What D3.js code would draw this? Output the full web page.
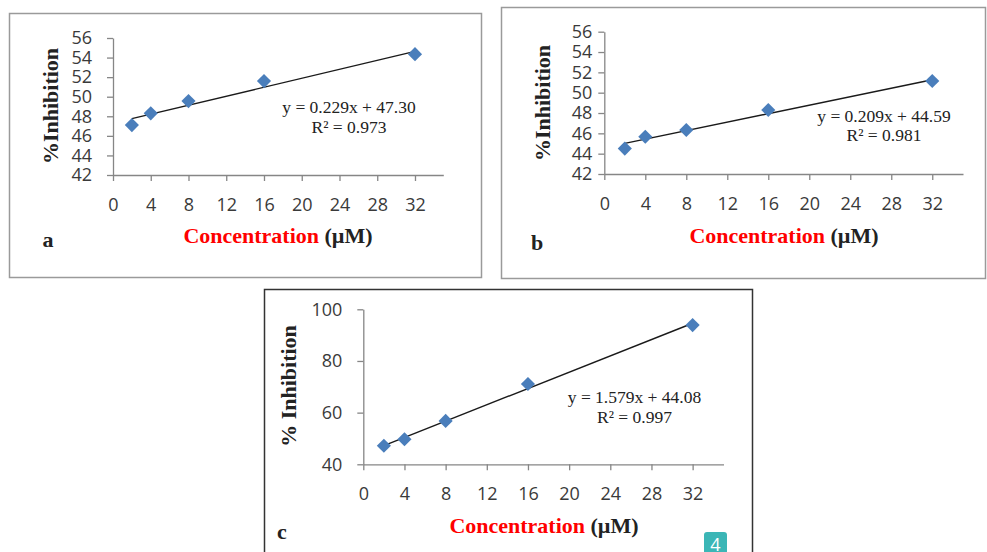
<!DOCTYPE html>
<html>
<head>
<meta charset="utf-8">
<script src="https://cdn.jsdelivr.net/npm/d3@7"></script>
<style>
  html, body { margin: 0; padding: 0; background: #fff; }
  svg { display: block; }
</style>
</head>
<body>
<svg id="chart" width="987" height="552"></svg>
<script>
// ---------- data ----------
const concentrations = [2, 4, 8, 16, 32];
const inhibitionA = [47.1, 48.3, 49.55, 51.6, 54.35];
const inhibitionB = [44.5, 45.67, 46.33, 48.3, 51.15];
const inhibitionC = [47.2, 49.7, 56.8, 71.1, 93.9];

const xTicks = [0, 4, 8, 12, 16, 20, 24, 28, 32];
const yTicksAB = [42, 44, 46, 48, 50, 52, 54, 56];
const yTicksC = [40, 60, 80, 100];

const panelLetters = ["a", "b", "c"];
const yTitles = ["%Inhibition", "%Inhibition", "% Inhibition"];
const slopes = [0.229, 0.209, 1.579];
const intercepts = ["47.30", "44.59", "44.08"];
const rSquared = ["0.973", "0.981", "0.997"];
const badgeLabel = "4";

// ---------- layout ----------
const layouts = [
  { box: [9, 13, 481, 277], border: "#9a9a9a", xr: [113, 443.3], yr: [175, 38], ydom: [42, 56],
    yPad: 15, eq: [349, 113, 133], yTitle: [50, 106], xTitle: [278, 243], letter: [48, 247] },
  { box: [501, 7, 985, 278], border: "#9a9a9a", xr: [604.3, 963], yr: [174, 31.7], ydom: [42, 56],
    yPad: 6, eq: [884, 122, 141], yTitle: [542, 103], xTitle: [784, 243], letter: [537, 250] },
  { box: [264, 289, 752, 580], border: "#333", xr: [363.3, 723.5], yr: [464.3, 309.3], ydom: [40, 100],
    yPad: 15, eq: [634.5, 403, 423], yTitle: [288, 386], xTitle: [544, 533], letter: [282, 539] }
];

const seriesList = [inhibitionA, inhibitionB, inhibitionC];
const yTickSets = [yTicksAB, yTicksAB, yTicksC];

const svg = d3.select("#chart");

seriesList.forEach((vals, i) => {
  const L = layouts[i];
  const g = svg.append("g");

  // border
  g.append("rect")
    .attr("x", L.box[0] + 0.5).attr("y", L.box[1] + 0.5)
    .attr("width", L.box[2] - L.box[0]).attr("height", L.box[3] - L.box[1])
    .attr("fill", "none").attr("stroke", L.border).attr("stroke-width", 1.5);

  const x = d3.scaleLinear().domain([0, 35]).range(L.xr);
  const y = d3.scaleLinear().domain(L.ydom).range(L.yr);

  // y axis
  const ya = g.append("g").attr("transform", `translate(${L.xr[0]},0)`)
    .call(d3.axisLeft(y).tickValues(yTickSets[i]).tickSize(6).tickSizeOuter(0).tickPadding(L.yPad));
  // x axis
  const xa = g.append("g").attr("transform", `translate(0,${L.yr[0]})`)
    .call(d3.axisBottom(x).tickValues(xTicks).tickSize(6).tickSizeOuter(0).tickPadding(17));

  [ya, xa].forEach(a => {
    a.select(".domain").attr("stroke", "#868686").attr("stroke-width", 1.3);
    a.selectAll(".tick line").attr("stroke", "#868686").attr("stroke-width", 1.3);
    a.selectAll(".tick text").attr("font-family", "'Open Sans', sans-serif")
      .attr("font-size", 18).attr("fill", "#3a3a3a");
  });

  // trendline
  const fit = c => slopes[i] * c + (+intercepts[i]);
  const c0 = d3.min(concentrations), c1 = d3.max(concentrations);
  g.append("line")
    .attr("x1", x(c0)).attr("y1", y(fit(c0)))
    .attr("x2", x(c1)).attr("y2", y(fit(c1)))
    .attr("stroke", "#1a1a1a").attr("stroke-width", 1.4);

  // markers
  g.selectAll("path.pt").data(concentrations).join("path")
    .attr("class", "pt")
    .attr("d", d3.symbol(d3.symbolSquare, 100))
    .attr("transform", (d, k) => `translate(${x(d)},${y(vals[k])}) rotate(45)`)
    .attr("fill", "#4a7ebb");

  // equation
  const eqFont = "'Liberation Serif', 'Times New Roman', serif";
  g.append("text").attr("x", L.eq[0]).attr("y", L.eq[1])
    .attr("text-anchor", "middle").attr("font-family", eqFont).attr("font-size", 17.5)
    .attr("fill", "#222")
    .text(`y = ${slopes[i].toFixed(3)}x + ${intercepts[i]}`);
  g.append("text").attr("x", L.eq[0]).attr("y", L.eq[2])
    .attr("text-anchor", "middle").attr("font-family", eqFont).attr("font-size", 17.5)
    .attr("fill", "#222")
    .text(`R² = ${rSquared[i]}`);

  // y title
  g.append("text")
    .attr("transform", `translate(${L.yTitle[0] + 8},${L.yTitle[1]}) rotate(-90)`)
    .attr("text-anchor", "middle").attr("font-family", eqFont).attr("font-weight", "bold")
    .attr("font-size", 22).attr("fill", "#222")
    .text(yTitles[i]);

  // x title
  const xt = g.append("text").attr("x", L.xTitle[0]).attr("y", L.xTitle[1])
    .attr("text-anchor", "middle").attr("font-family", eqFont).attr("font-weight", "bold")
    .attr("font-size", 22);
  xt.append("tspan").attr("fill", "#ff0000").text("Concentration");
  xt.append("tspan").attr("fill", "#222").text(" (µM)");

  // panel letter
  g.append("text").attr("x", L.letter[0]).attr("y", L.letter[1])
    .attr("text-anchor", "middle").attr("font-family", eqFont).attr("font-weight", "bold")
    .attr("font-size", 22).attr("fill", "#222")
    .text(panelLetters[i]);
});

// badge
const badge = svg.append("g");
badge.append("rect").attr("x", 704).attr("y", 532).attr("width", 23).attr("height", 26)
  .attr("rx", 3).attr("fill", "#3bb6b6");
badge.append("text").attr("x", 715.5).attr("y", 551).attr("text-anchor", "middle")
  .attr("font-family", "'Open Sans', sans-serif").attr("font-size", 18).attr("fill", "#fff")
  .text(badgeLabel);
</script>
</body>
</html>
